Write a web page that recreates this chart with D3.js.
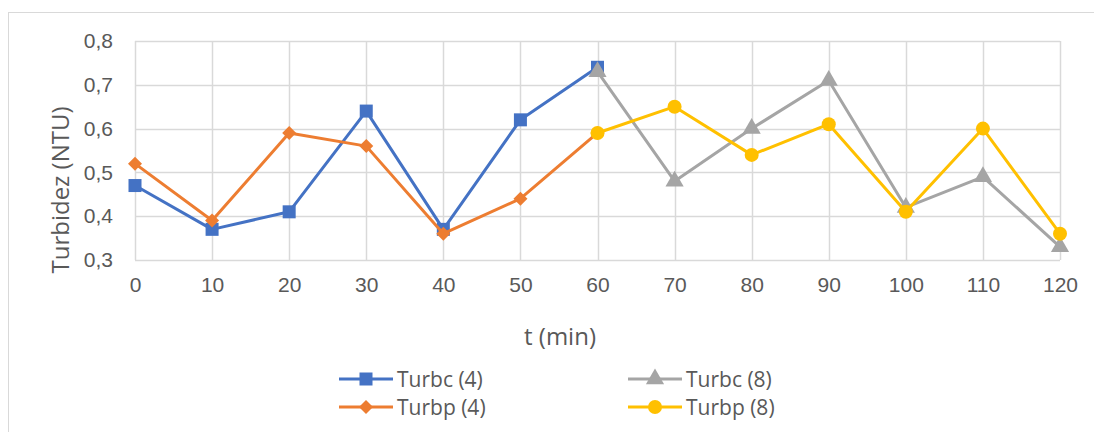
<!DOCTYPE html>
<html>
<head>
<meta charset="utf-8">
<script src="https://cdn.jsdelivr.net/npm/d3@7"></script>
<style>
  body { margin: 0; background: #fff; }
  svg { display: block; font-family: "Open Sans", sans-serif; }
</style>
</head>
<body>
<div id="myDiv"></div>
<script>
// Data
var times = [0, 10, 20, 30, 40, 50, 60, 70, 80, 90, 100, 110, 120];
var turbc4 = [0.47, 0.37, 0.41, 0.64, 0.37, 0.62, 0.74, null, null, null, null, null, null];
var turbc8 = [null, null, null, null, null, null, 0.73, 0.48, 0.60, 0.71, 0.42, 0.49, 0.33];
var turbp4 = [0.52, 0.39, 0.59, 0.56, 0.36, 0.44, 0.59, null, null, null, null, null, null];
var turbp8 = [null, null, null, null, null, null, 0.59, 0.65, 0.54, 0.61, 0.41, 0.60, 0.36];
var yTicks = [0.3, 0.4, 0.5, 0.6, 0.7, 0.8];
var xTicks = [0, 10, 20, 30, 40, 50, 60, 70, 80, 90, 100, 110, 120];

var series = [
  {name: 'Turbc (4)', values: turbc4, color: '#4472C4', marker: 'square'},
  {name: 'Turbc (8)', values: turbc8, color: '#A5A5A5', marker: 'triangle'},
  {name: 'Turbp (4)', values: turbp4, color: '#ED7D31', marker: 'diamond'},
  {name: 'Turbp (8)', values: turbp8, color: '#FFC000', marker: 'circle'}
];

var W = 1094, H = 432;
var margin = {top: 41, right: 34, bottom: 172, left: 135};
var width = W - margin.left - margin.right,
    height = H - margin.top - margin.bottom;
var textColor = '#595959';
var gridColor = '#D9D9D9';

var svg = d3.select('#myDiv').append('svg')
  .attr('width', W)
  .attr('height', H);

// chart frame
svg.append('rect')
  .attr('x', 8.5).attr('y', 12.5)
  .attr('width', 1100).attr('height', 450)
  .attr('fill', 'none')
  .attr('stroke', gridColor);

var g = svg.append('g')
  .attr('transform', 'translate(' + margin.left + ',' + margin.top + ')');

var x = d3.scaleLinear().domain([0, 120]).range([0, width]);
var y = d3.scaleLinear().domain([0.3, 0.8]).range([height, 0]);

// gridlines
g.append('g')
  .selectAll('line')
  .data(yTicks)
  .enter().append('line')
    .attr('x1', 0).attr('x2', width)
    .attr('y1', function(d){ return Math.round(y(d)) + 0.5; })
    .attr('y2', function(d){ return Math.round(y(d)) + 0.5; })
    .attr('stroke', gridColor).attr('stroke-width', 1.5);

g.append('g')
  .selectAll('line')
  .data(xTicks)
  .enter().append('line')
    .attr('x1', function(d){ return Math.round(x(d)) + 0.5; })
    .attr('x2', function(d){ return Math.round(x(d)) + 0.5; })
    .attr('y1', 0).attr('y2', height)
    .attr('stroke', gridColor).attr('stroke-width', 1.5);

// axes (labels only)
var fmt = function(d){ return d3.format('.1f')(d).replace('.', ','); };

var yAxis = g.append('g')
  .call(d3.axisLeft(y).tickValues(yTicks).tickFormat(fmt).tickSize(0).tickPadding(22));
yAxis.select('.domain').remove();
yAxis.selectAll('text').style('font-size', '21px').attr('fill', textColor);

var xAxis = g.append('g')
  .attr('transform', 'translate(0,' + height + ')')
  .call(d3.axisBottom(x).tickValues(xTicks).tickSize(0).tickPadding(17));
xAxis.select('.domain').remove();
xAxis.selectAll('text').style('font-size', '21px').attr('fill', textColor);

// axis titles
svg.append('text')
  .attr('transform', 'translate(59,190) rotate(-90)')
  .attr('text-anchor', 'middle')
  .attr('dominant-baseline', 'central')
  .style('font-size', '24px')
  .attr('fill', textColor)
  .text('Turbidez (NTU)');

svg.append('text')
  .attr('x', 560).attr('y', 335)
  .attr('text-anchor', 'middle')
  .attr('dominant-baseline', 'central')
  .style('font-size', '24px')
  .attr('fill', textColor)
  .text('t (min)');

// markers
function drawMarker(sel, type, color, size) {
  if (type === 'square') {
    sel.append('rect')
      .attr('x', -size / 2).attr('y', -size / 2)
      .attr('width', size).attr('height', size)
      .attr('fill', color);
  } else if (type === 'circle') {
    sel.append('circle').attr('r', size / 2 + 0.5).attr('fill', color);
  } else if (type === 'diamond') {
    var r = size / 2 + 0.5;
    sel.append('path')
      .attr('d', 'M0,' + (-r) + 'L' + r + ',0L0,' + r + 'L' + (-r) + ',0Z')
      .attr('fill', color);
  } else {
    sel.append('path')
      .attr('d', d3.symbol().type(d3.symbolTriangle).size(size * size * 0.85)())
      .attr('fill', color);
  }
}

var line = d3.line()
  .defined(function(d){ return d.v != null; })
  .x(function(d){ return x(d.t); })
  .y(function(d){ return y(d.v); });

series.forEach(function(s) {
  var pts = times.map(function(t, i){ return {t: t, v: s.values[i]}; });
  var sg = g.append('g');
  sg.append('path')
    .datum(pts)
    .attr('d', line)
    .attr('fill', 'none')
    .attr('stroke', s.color)
    .attr('stroke-width', 3)
    .attr('stroke-linejoin', 'round');
  pts.filter(function(d){ return d.v != null; }).forEach(function(d) {
    var m = sg.append('g').attr('transform', 'translate(' + x(d.t) + ',' + y(d.v) + ')');
    drawMarker(m, s.marker, s.color, 13);
  });
});

// legend
var legendPos = [
  {x: 339, y: 379}, {x: 628, y: 379},
  {x: 339, y: 407}, {x: 628, y: 407}
];
series.forEach(function(s, i) {
  var p = legendPos[i];
  var lg = svg.append('g').attr('transform', 'translate(' + p.x + ',' + p.y + ')');
  lg.append('line')
    .attr('x1', 0).attr('x2', 54)
    .attr('stroke', s.color).attr('stroke-width', 3);
  var m = lg.append('g').attr('transform', 'translate(27,0)');
  drawMarker(m, s.marker, s.color, 13);
  lg.append('text')
    .attr('x', 58)
    .attr('dominant-baseline', 'central')
    .style('font-size', '21px')
    .attr('fill', textColor)
    .text(s.name);
});
</script>
</body>
</html>
